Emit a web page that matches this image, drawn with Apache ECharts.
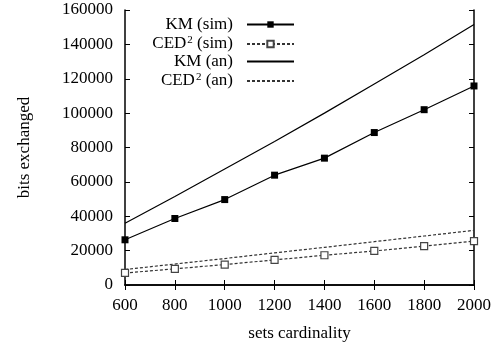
<!DOCTYPE html>
<html>
<head>
<meta charset="utf-8">
<script src="https://cdn.jsdelivr.net/npm/echarts@6/dist/echarts.min.js"></script>
<style>
  html, body { margin: 0; padding: 0; background: #fff; }
  #chart { width: 494px; height: 347px; }
</style>
</head>
<body>
<div id="chart"></div>
<script>
// Set sizes on the x axis
const cardinality = [600, 800, 1000, 1200, 1400, 1600, 1800, 2000];
// Bits exchanged, simulated and analytic
const kmSim   = [26300, 38700, 49700, 63900, 73800, 88700, 102000, 115800];
const cedSim  = [7000, 9400, 11900, 14600, 17300, 19800, 22600, 25500];
const kmAn    = [35900, 51500, 67500, 83500, 100000, 117000, 134000, 151500];
const cedAn   = [9000, 12200, 15400, 18700, 21900, 25200, 28500, 31800];

const seriesNames = ['KM (sim)', 'CED2 (sim)', 'KM (an)', 'CED2 (an)'];
const FONT = 'Liberation Serif';

const pairs = arr => cardinality.map((c, i) => [c, arr[i]]);

const chart = echarts.init(document.getElementById('chart'));

const legendRows = [25, 44, 62, 81];
// analytic curves have no markers, so their legend samples are plain lines
const markerless = [false, false, true, true];
const legendFormatter = name => {
  if (name.indexOf('CED2') === 0) {
    return '{t|CED}{s|2}{t|' + name.slice(4) + '}';
  }
  return '{t|' + name + '}';
};
const legendText = {
  fontFamily: FONT, fontSize: 17, color: '#000',
  padding: [0, 9, 0, 0],
  rich: {
    t: { fontFamily: FONT, fontSize: 17, color: '#000', lineHeight: 18 },
    s: { fontFamily: FONT, fontSize: 11, color: '#000', verticalAlign: 'top', lineHeight: 11, padding: [0, 0, 14, 1] }
  }
};

const axisCommon = {
  type: 'value',
  axisLine: { show: true, lineStyle: { color: '#000', width: 1.5 } },
  axisTick: { show: true, inside: true, length: 5, lineStyle: { color: '#000', width: 1 } },
  splitLine: { show: false }
};
const plain = v => String(v);

chart.setOption({
  animation: false,
  backgroundColor: '#fff',
  textStyle: { fontFamily: FONT },
  grid: { left: 125, right: 19, top: 10, bottom: 59, containLabel: false },
  legend: seriesNames.map((n, i) => ({
    data: [markerless[i]
      ? { name: n, itemStyle: { color: 'rgba(0,0,0,0)', borderWidth: 0 } }
      : n],
    orient: 'vertical',
    right: 199,
    top: legendRows[i] - 9,
    align: 'right',
    icon: 'inherit',
    itemWidth: 47,
    itemHeight: 8,
    itemGap: 0,
    padding: 0,
    selectedMode: false,
    formatter: legendFormatter,
    textStyle: legendText
  })),
  xAxis: [
    Object.assign({}, axisCommon, {
      min: 600, max: 2000, interval: 200, position: 'bottom',
      name: 'sets cardinality', nameLocation: 'middle', nameGap: 40,
      nameTextStyle: { fontFamily: FONT, fontSize: 17, color: '#000' },
      axisLabel: { fontFamily: FONT, fontSize: 17, color: '#000', margin: 12, formatter: plain }
    }),
    Object.assign({}, axisCommon, {
      min: 600, max: 2000, interval: 200, position: 'top',
      axisLabel: { show: false }
    })
  ],
  yAxis: [
    Object.assign({}, axisCommon, {
      min: 0, max: 160000, interval: 20000, position: 'left',
      name: 'bits exchanged', nameLocation: 'middle', nameGap: 92,
      nameTextStyle: { fontFamily: FONT, fontSize: 17, color: '#000' },
      axisLabel: { fontFamily: FONT, fontSize: 17, color: '#000', margin: 12, formatter: plain }
    }),
    Object.assign({}, axisCommon, {
      min: 0, max: 160000, interval: 20000, position: 'right',
      axisLabel: { show: false }
    })
  ],
  series: [
    {
      name: seriesNames[0], type: 'line', data: pairs(kmSim),
      symbol: 'rect', symbolSize: 7, showAllSymbol: true,
      lineStyle: { color: '#000', width: 1.2 },
      itemStyle: { color: '#000', borderColor: '#000', borderWidth: 0 }
    },
    {
      name: seriesNames[1], type: 'line', data: pairs(cedSim),
      symbol: 'rect', symbolSize: 7, showAllSymbol: true,
      lineStyle: { color: '#333', width: 1.2, type: [3, 2] },
      itemStyle: { color: '#fff', borderColor: '#444', borderWidth: 1.2 }
    },
    {
      name: seriesNames[2], type: 'line', data: pairs(kmAn),
      symbol: 'none', showSymbol: false,
      lineStyle: { color: '#000', width: 1.2 },
      itemStyle: { color: '#000' }
    },
    {
      name: seriesNames[3], type: 'line', data: pairs(cedAn),
      symbol: 'none', showSymbol: false,
      lineStyle: { color: '#333', width: 1.2, type: [3, 2] },
      itemStyle: { color: '#333' }
    }
  ]
});
</script>
</body>
</html>
